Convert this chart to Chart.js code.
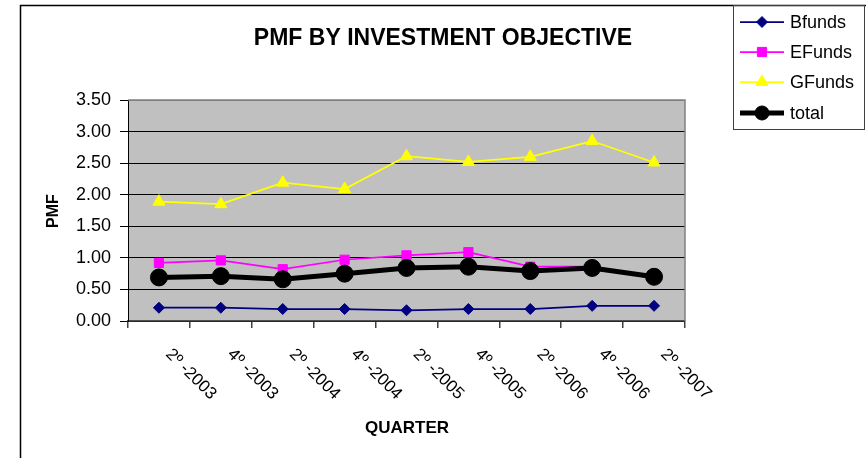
<!DOCTYPE html>
<html>
<head>
<meta charset="utf-8">
<script src="https://cdn.jsdelivr.net/npm/chart.js@4"></script>
<style>
  html, body { margin: 0; padding: 0; background: #fff; }
  #wrap { width: 866px; height: 458px; position: relative; }
</style>
</head>
<body>
<div id="wrap"><canvas id="pmfChart" width="866" height="458"></canvas></div>
<script>
// ---------------------- data ----------------------
const quarters = ['2º -2003', '4º -2003', '2º -2004', '4º -2004', '2º -2005', '4º -2005', '2º -2006', '4º -2006', '2º -2007'];
const bfunds = [0.21, 0.21, 0.19, 0.19, 0.17, 0.19, 0.19, 0.24, 0.24];
const efunds = [0.92, 0.96, 0.82, 0.97, 1.04, 1.09, 0.86, 0.86, 0.67];
const gfunds = [1.89, 1.85, 2.19, 2.09, 2.61, 2.52, 2.60, 2.85, 2.51];
const total  = [0.69, 0.71, 0.66, 0.75, 0.84, 0.86, 0.79, 0.84, 0.70];
const yTicks = [0, 0.5, 1, 1.5, 2, 2.5, 3, 3.5];

const FONT = "'Liberation Sans', Arial, sans-serif";

// ---------------------- custom drawing ----------------------
const frame = {
  id: 'frame',
  beforeDraw(chart) {
    const { ctx, chartArea: a } = chart;
    ctx.save();
    ctx.fillStyle = '#c0c0c0';
    ctx.fillRect(a.left, a.top, a.right - a.left, a.bottom - a.top);
    ctx.restore();
  },
  afterDraw(chart) {
    const { ctx, chartArea: a } = chart;
    const xs = chart.scales.x;
    ctx.save();
    // plot border (top / right)
    ctx.strokeStyle = '#808080';
    ctx.lineWidth = 1.5;
    ctx.beginPath();
    ctx.moveTo(a.left, a.top);
    ctx.lineTo(a.right, a.top);
    ctx.lineTo(a.right, a.bottom);
    ctx.stroke();

    // outer frame
    ctx.strokeStyle = '#000';
    ctx.lineWidth = 1.5;
    ctx.beginPath();
    ctx.moveTo(20.5, 458);
    ctx.lineTo(20.5, 5.5);
    ctx.lineTo(866, 5.5);
    ctx.stroke();

    // title
    ctx.fillStyle = '#000';
    ctx.font = 'bold 23px ' + FONT;
    ctx.textAlign = 'center';
    ctx.textBaseline = 'alphabetic';
    ctx.fillText('PMF BY INVESTMENT OBJECTIVE', 443, 45);

    // axis titles
    ctx.font = 'bold 17px ' + FONT;
    ctx.fillText('QUARTER', 407, 433);
    ctx.save();
    ctx.translate(58, 211);
    ctx.rotate(-Math.PI / 2);
    ctx.font = 'bold 16px ' + FONT;
    ctx.fillText('PMF', 0, 0);
    ctx.restore();

    // rotated category labels
    ctx.font = '17px ' + FONT;
    ctx.textAlign = 'left';
    quarters.forEach((q, i) => {
      const x = xs.getPixelForValue(i);
      ctx.save();
      ctx.translate(x + 6, a.bottom + 34);
      ctx.rotate(Math.PI / 4);
      ctx.fillText(q, 0, 0);
      ctx.restore();
    });

    // legend
    ctx.strokeStyle = '#404040';
    ctx.lineWidth = 1;
    ctx.strokeRect(733.5, 5.5, 131, 124);
    ctx.font = '18px ' + FONT;
    ctx.textBaseline = 'middle';
    const rows = [22, 52, 82, 113];
    chart.data.datasets.forEach((ds, i) => {
      const y = rows[i];
      ctx.strokeStyle = ds.borderColor;
      ctx.lineWidth = ds.borderWidth;
      ctx.beginPath();
      ctx.moveTo(740, y);
      ctx.lineTo(784, y);
      ctx.stroke();
      ctx.fillStyle = ds.pointBackgroundColor;
      ctx.strokeStyle = ds.pointBorderColor;
      ctx.lineWidth = 1;
      Chart.helpers.drawPoint(ctx, { pointStyle: ds.pointStyle, radius: ds.legendRadius, rotation: 0, borderWidth: 1 }, 762, y);
      ctx.fillStyle = '#000';
      ctx.fillText(ds.label, 790, y + 1);
    });
    ctx.restore();
  }
};

// ---------------------- chart ----------------------
const ctx = document.getElementById('pmfChart').getContext('2d');

const pmfChart = new Chart(ctx, {
  type: 'line',
  data: {
    labels: quarters,
    datasets: [
      {
        label: 'Bfunds', data: bfunds, order: 1,
        borderColor: '#000080', borderWidth: 1.75,
        pointStyle: 'rectRot', pointRadius: 5.5, legendRadius: 5.5,
        pointBackgroundColor: '#000080', pointBorderColor: '#000080', pointBorderWidth: 1
      },
      {
        label: 'EFunds', data: efunds, order: 1,
        borderColor: '#ff00ff', borderWidth: 1.75,
        pointStyle: 'rect', pointRadius: 6.5, legendRadius: 6.5,
        pointBackgroundColor: '#ff00ff', pointBorderColor: '#ff00ff', pointBorderWidth: 1
      },
      {
        label: 'GFunds', data: gfunds, order: 1,
        borderColor: '#ffff00', borderWidth: 1.75,
        pointStyle: 'triangle', pointRadius: 7, legendRadius: 7,
        pointBackgroundColor: '#ffff00', pointBorderColor: '#ffff00', pointBorderWidth: 1
      },
      {
        label: 'total', data: total, order: 0,
        borderColor: '#000000', borderWidth: 5,
        pointStyle: 'circle', pointRadius: 8.5, legendRadius: 7,
        pointBackgroundColor: '#000000', pointBorderColor: '#000000', pointBorderWidth: 1
      }
    ]
  },
  options: {
    responsive: false,
    animation: false,
    events: [],
    layout: { padding: { left: 20, top: 100, right: 181, bottom: 0 } },
    elements: { line: { tension: 0 } },
    scales: {
      x: {
        type: 'category',
        offset: true,
        afterFit: (s) => { s.height = 137; },
        grid: { display: true, offset: true, drawOnChartArea: false, drawTicks: true, tickLength: 7, tickColor: '#404040', lineWidth: 1.5 },
        border: { display: true, color: '#505050', width: 1.5 },
        ticks: { display: false }
      },
      y: {
        min: 0,
        max: 3.5,
        afterFit: (s) => { s.width = 108; },
        afterBuildTicks: (s) => { s.ticks = yTicks.map(v => ({ value: v })); },
        grid: {
          color: (c) => (c.tick && c.tick.value === 3.5 ? '#808080' : '#000000'),
          lineWidth: 1,
          tickLength: 8,
          tickColor: '#000000'
        },
        border: { display: true, color: '#000000', width: 1 },
        ticks: {
          padding: 9,
          color: '#000',
          font: { family: FONT, size: 18 },
          callback: (v) => Number(v).toFixed(2)
        }
      }
    },
    plugins: {
      legend: { display: false },
      tooltip: { enabled: false },
      title: { display: false }
    }
  },
  plugins: [frame]
});
</script>
</body>
</html>
